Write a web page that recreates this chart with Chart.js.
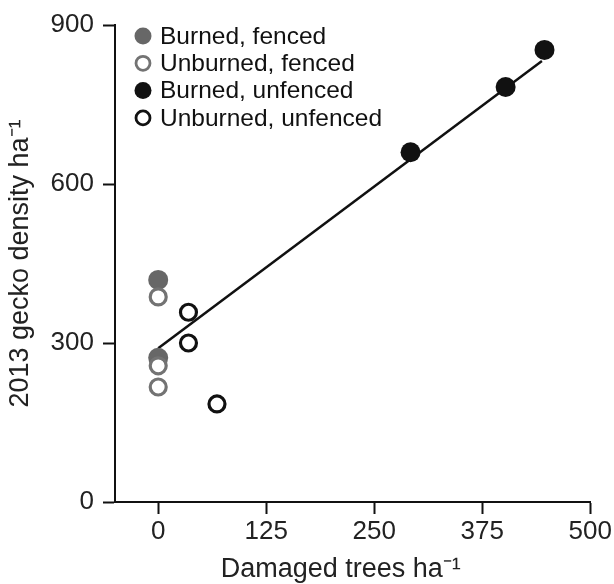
<!DOCTYPE html>
<html><head><meta charset="utf-8">
<script src="https://cdn.jsdelivr.net/npm/chart.js@4/dist/chart.umd.min.js"></script>
<style>html,body{margin:0;padding:0;background:#fff;} #wrap{width:614px;height:584px;}</style>
</head><body><div id="wrap"><canvas id="c" width="614" height="584"></canvas></div>
<script>
const seriesNames = ['Burned, fenced', 'Unburned, fenced', 'Burned, unfenced', 'Unburned, unfenced'];
const burnedFencedX = [0, 0];
const burnedFencedY = [419, 272];
const unburnedFencedX = [0, 0, 0];
const unburnedFencedY = [387, 257, 217];
const burnedUnfencedX = [292, 402, 447];
const burnedUnfencedY = [660, 783, 853];
const unburnedUnfencedX = [35, 35, 68];
const unburnedUnfencedY = [358, 300, 185];
const fitX = [0, 444];
const fitY = [290, 832];
const xTicks = [0, 125, 250, 375, 500];
const yTicks = [0, 300, 600, 900];
const xTitle = 'Damaged trees ha\u207B\u00B9';
const yTitle = '2013 gecko density ha\u207B\u00B9';

const FONT = '"Liberation Sans", Arial, Helvetica, sans-serif';
const pts = (xs, ys) => xs.map((x, i) => ({x: x, y: ys[i]}));

const datasets = [
  {label: seriesNames[0], data: pts(burnedFencedX, burnedFencedY), order: 4,
   pointRadius: 10, backgroundColor: '#676767', borderColor: '#676767', borderWidth: 0},
  {label: seriesNames[1], data: pts(unburnedFencedX, unburnedFencedY), order: 2,
   pointRadius: 8, backgroundColor: '#ffffff', borderColor: '#737373', borderWidth: 3.2},
  {label: seriesNames[2], data: pts(burnedUnfencedX, burnedUnfencedY), order: 3,
   pointRadius: 10, backgroundColor: '#111111', borderColor: '#111111', borderWidth: 0},
  {label: seriesNames[3], data: pts(unburnedUnfencedX, unburnedUnfencedY), order: 1,
   pointRadius: 8, backgroundColor: '#ffffff', borderColor: '#111111', borderWidth: 3.2},
  {label: 'fit', data: pts(fitX, fitY), order: 5, showLine: true, pointRadius: 0,
   borderColor: '#111111', borderWidth: 2.5, fill: false}
];

const overlayPlugin = {
  id: 'overlay',
  afterDraw(chart) {
    const ctx = chart.ctx;
    const a = chart.chartArea;
    const x0 = a.left + 28, y0 = a.top + 11, dy = 27.3;
    ctx.save();
    ctx.font = '24.5px ' + FONT;
    ctx.textBaseline = 'middle';
    ctx.textAlign = 'left';
    for (let i = 0; i < 4; i++) {
      const ds = chart.data.datasets[i];
      const y = y0 + i * dy;
      ctx.beginPath();
      if (ds.borderWidth > 0) {
        ctx.arc(x0, y, 7, 0, 2 * Math.PI);
        ctx.fillStyle = ds.backgroundColor; ctx.fill();
        ctx.lineWidth = 2.8; ctx.strokeStyle = ds.borderColor; ctx.stroke();
      } else {
        ctx.arc(x0, y, 8.5, 0, 2 * Math.PI);
        ctx.fillStyle = ds.backgroundColor; ctx.fill();
      }
      ctx.fillStyle = '#111';
      ctx.fillText(ds.label, x0 + 17, y + 1);
    }
    // x-axis title
    ctx.font = '27px ' + FONT;
    ctx.fillStyle = '#222';
    ctx.textAlign = 'center';
    ctx.textBaseline = 'middle';
    ctx.fillText(xTitle, a.left + (a.right - a.left) * 0.475, chart.height - 14);
    ctx.restore();
  }
};

const axisCommon = {
  type: 'linear',
  grid: {drawOnChartArea: false, drawTicks: true, tickLength: 12, tickWidth: 2, tickColor: '#111'},
  border: {display: true, color: '#111', width: 2}
};

new Chart(document.getElementById('c'), {
  type: 'scatter',
  data: {datasets: datasets},
  options: {
    responsive: false,
    devicePixelRatio: 1,
    animation: false,
    layout: {padding: {top: 25, right: 22, left: 0, bottom: 0}},
    plugins: {legend: {display: false}, tooltip: {enabled: false}},
    scales: {
      x: Object.assign({}, axisCommon, {
        position: 'bottom', min: -50, max: 500,
        afterBuildTicks: s => { s.ticks = xTicks.map(v => ({value: v})); },
        afterFit: s => { s.height = 82; },
        ticks: {color: '#222', padding: 2, font: {size: 26, family: FONT}, maxRotation: 0, autoSkip: false},
        title: {display: false}
      }),
      y: Object.assign({}, axisCommon, {
        position: 'left', min: 0, max: 900,
        afterBuildTicks: s => { s.ticks = yTicks.map(v => ({value: v})); },
        afterFit: s => { s.width = 115; },
        ticks: {color: '#222', padding: 9, font: {size: 26, family: FONT}, autoSkip: false},
        title: {display: true, text: yTitle, color: '#222', font: {size: 27, family: FONT}, padding: {top: 4, bottom: 4}}
      })
    }
  },
  plugins: [overlayPlugin]
});
</script>
</body></html>
